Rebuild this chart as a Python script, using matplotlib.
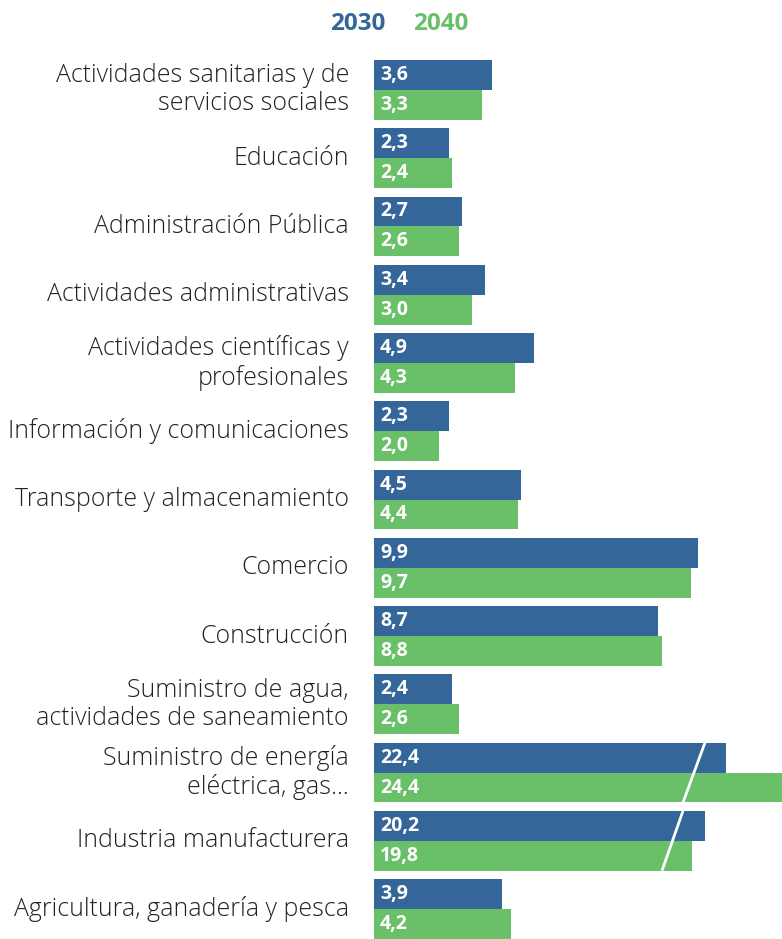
import matplotlib
matplotlib.use("Agg")
import matplotlib.pyplot as plt
import numpy as np
from matplotlib import font_manager

plt.rcParams['font.family'] = ['Open Sans', 'DejaVu Sans']

categories = [
    "Actividades sanitarias y de\nservicios sociales",
    "Educación",
    "Administración Pública",
    "Actividades administrativas",
    "Actividades científicas y\nprofesionales",
    "Información y comunicaciones",
    "Transporte y almacenamiento",
    "Comercio",
    "Construcción",
    "Suministro de agua,\nactividades de saneamiento",
    "Suministro de energía\neléctrica, gas…",
    "Industria manufacturera",
    "Agricultura, ganadería y pesca",
]
values_2030 = [3.6, 2.3, 2.7, 3.4, 4.9, 2.3, 4.5, 9.9, 8.7, 2.4, 22.4, 20.2, 3.9]
values_2040 = [3.3, 2.4, 2.6, 3.0, 4.3, 2.0, 4.4, 9.7, 8.8, 2.6, 24.4, 19.8, 4.2]
series_labels = ["2030", "2040"]

PXU = 32.7  # pixels per unit
# axis-break amount removed from the drawn length of very long bars (layout)
break_cut = {10: 11.64, 11: 10.08}
# slash position (top x, bottom x) for broken rows, in axis units
slash_x = {10: (331 / PXU, 309 / PXU), 11: (309 / PXU, 288 / PXU)}

BLUE = "#346699"
GREEN = "#6ABF69"

light = [f.name for f in font_manager.fontManager.ttflist
         if f.name == "Open Sans" and f.weight in (300, "light")]
label_weight = "light" if light else "normal"

W, H = 782, 939
fig = plt.figure(figsize=(W / 100, H / 100), dpi=100)
ax_left, ax_right = 374, 782
ax_top, ax_bot = 60, 939
ax = fig.add_axes([ax_left / W, 1 - ax_bot / H, (ax_right - ax_left) / W, (ax_bot - ax_top) / H])

n = len(categories)
y = np.arange(n)
bh = 30 / 68.4
ax.set_xlim(0, (ax_right - ax_left) / PXU)
ax.set_ylim(n - 1 + bh, -bh)

def fmt(v):
    return f"{v:.1f}".replace(".", ",")

for i in range(n):
    cut = break_cut.get(i, 0.0)
    for v, off, col in ((values_2030[i], -bh / 2, BLUE), (values_2040[i], bh / 2, GREEN)):
        ax.barh(y[i] + off, v - cut, height=bh, left=0, color=col, linewidth=0)
        ax.text(6 / PXU, y[i] + off, fmt(v), color="white", fontsize=14, fontweight="bold",
                va="center", ha="left")
    if i in slash_x:
        xt, xb = slash_x[i]
        ax.plot([xt, xb], [y[i] - bh, y[i] + bh], color="white", lw=2, solid_capstyle="butt")

for i, c in enumerate(categories):
    ax.text(-25 / PXU, y[i], c, ha="right", va="center", fontsize=17.9, color="#222222",
            linespacing=1.16, multialignment="right", fontweight=label_weight)

ax.axis("off")

fig.text(385 / W, 1 - 24 / H, series_labels[0], color=BLUE, fontsize=17.5, fontweight="bold",
         ha="right", va="center")
fig.text(413 / W, 1 - 24 / H, series_labels[1], color=GREEN, fontsize=17.5, fontweight="bold",
         ha="left", va="center")

fig.savefig("out.png", dpi=100)
